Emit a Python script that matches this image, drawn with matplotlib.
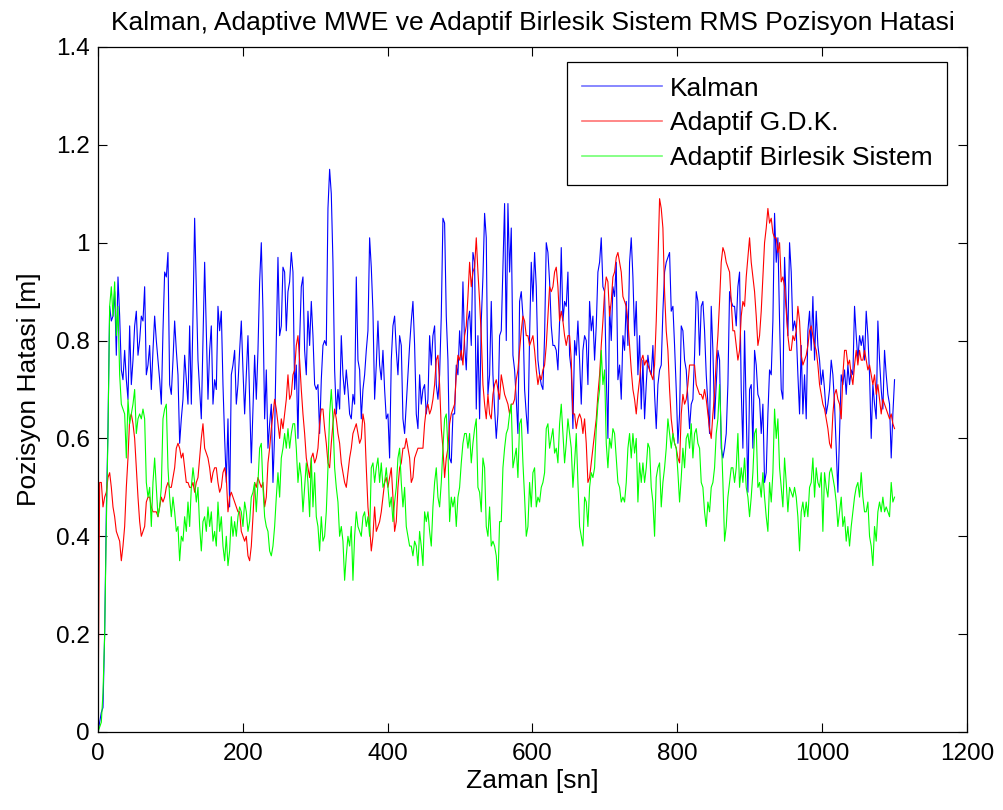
import numpy as np
import matplotlib
matplotlib.use('Agg')
import matplotlib.pyplot as plt

# RMS pozisyon hatasi, ~2.3 sn aralikli ornekler
kalman_1 = [0.0, 0.02, 0.04, 0.05, 0.2, 0.45, 0.62, 0.87, 0.84, 0.85,
            0.90, 0.77, 0.93, 0.85, 0.74, 0.72, 0.78, 0.72, 0.68, 0.83,
            0.71, 0.76, 0.83, 0.86, 0.77, 0.80, 0.85, 0.84, 0.91, 0.73,
            0.75, 0.79, 0.70, 0.78, 0.85, 0.80, 0.76, 0.72, 0.67, 0.82,
            0.94, 0.93, 0.98, 0.71, 0.69, 0.76, 0.84, 0.78, 0.73, 0.59,
            0.64, 0.68, 0.77, 0.72, 0.67, 0.83, 0.67, 0.85, 1.05, 0.90,
            0.76, 0.70, 0.64, 0.80, 0.96, 0.82, 0.68, 0.78, 0.83, 0.67,
            0.72, 0.70, 0.87, 0.82, 0.86, 0.71, 0.60, 0.51, 0.64, 0.46,
            0.73, 0.75, 0.78, 0.67, 0.71, 0.78, 0.84, 0.74, 0.65, 0.73,
            0.81, 0.68, 0.55, 0.66]
kalman_2 = [0.77, 0.68, 0.78, 0.92, 1.00, 0.86, 0.64, 0.74, 0.58, 0.63,
            0.67, 0.51, 0.61, 0.80, 0.97, 0.81, 0.83, 0.95, 0.94, 0.82,
            0.90, 0.92, 0.98, 0.94, 0.70, 0.75, 0.60, 0.80, 0.91, 0.93,
            0.78, 0.73, 0.86, 0.79, 0.88, 0.81, 0.71, 0.70, 0.71, 0.61,
            0.72, 0.79, 0.80, 0.79, 1.07, 1.15, 1.10, 0.96, 0.74, 0.65,
            0.70, 0.66, 0.81, 0.73, 0.69, 0.74, 0.70, 0.65, 0.64, 0.69,
            0.67, 0.93, 0.76, 0.74, 0.64, 0.70, 0.73, 0.78, 0.82, 1.01,
            0.95, 0.86, 0.68, 0.75, 0.84, 0.75, 0.72, 0.78, 0.70, 0.64,
            0.65, 0.56, 0.76, 0.83, 0.85, 0.78, 0.73, 0.81, 0.79, 0.64,
            0.61, 0.67, 0.73, 0.79, 0.84, 0.88]
kalman_3 = [0.79, 0.65, 0.62, 0.73, 0.67, 0.70, 0.71, 0.65, 0.68, 0.81,
            0.75, 0.81, 0.83, 0.71, 0.68, 0.73, 0.85, 1.05, 1.04, 0.85,
            0.76, 0.56, 0.55, 0.65, 0.65, 0.75, 0.73, 0.82, 0.76, 0.92,
            0.79, 0.74, 0.84, 0.86, 0.79, 0.98, 0.96, 0.66, 0.81, 0.64,
            0.84, 0.93, 1.06, 1.01, 0.69, 0.73, 0.88, 0.73, 0.66, 0.60,
            0.65, 0.81, 0.82, 0.95, 1.08, 0.80, 1.08, 0.94, 1.03, 0.77,
            0.74, 0.68, 0.61, 0.88, 0.90, 0.85, 0.70, 0.65, 0.61, 0.81,
            0.96, 0.88, 0.98, 0.91, 0.76, 0.73, 0.71, 0.70, 0.81, 1.00,
            0.98, 0.92, 0.83, 0.79, 0.79, 0.78, 0.74, 0.84, 0.99, 0.84,
            0.88, 0.87, 0.94, 0.77, 0.74, 0.62]
kalman_4 = [0.80, 0.77, 0.84, 0.76, 0.67, 0.78, 0.81, 0.80, 0.71, 0.88,
            0.82, 0.85, 0.76, 0.83, 0.94, 0.96, 1.01, 0.91, 0.90, 0.73,
            0.60, 0.87, 0.80, 0.91, 0.89, 0.96, 0.72, 0.75, 0.68, 0.81,
            0.78, 0.88, 0.79, 0.96, 1.01, 0.93, 0.81, 0.88, 0.73, 0.81,
            0.66, 0.76, 0.64, 0.71, 0.77, 0.74, 0.73, 0.79, 0.69, 0.62,
            0.71, 0.74, 0.75, 0.86, 0.94, 0.96, 0.97, 0.98, 0.86, 0.87,
            0.79, 0.70, 0.59, 0.65, 0.83, 0.82, 0.76, 0.74, 0.68, 0.62,
            0.67, 0.68, 0.77, 0.90, 0.88, 0.77, 0.87, 0.88, 0.82, 0.73,
            0.67, 0.61, 0.87, 0.78, 0.64, 0.71, 0.78, 0.76, 0.58, 0.56,
            0.58, 0.61, 0.71, 0.90, 0.88, 0.87]
kalman_5 = [0.87, 0.83, 0.91, 0.94, 0.70, 0.58, 0.82, 0.65, 0.49, 0.70,
            0.71, 0.58, 0.78, 0.75, 0.69, 0.68, 0.61, 0.67, 0.51, 0.53,
            0.65, 0.74, 0.73, 0.84, 1.06, 0.96, 1.01, 0.84, 0.70, 0.68,
            0.97, 0.88, 0.81, 1.00, 0.94, 0.82, 0.84, 0.82, 0.73, 0.65,
            0.79, 0.65, 0.73, 0.64, 0.82, 0.86, 0.78, 0.89, 0.76, 0.86,
            0.79, 0.76, 0.71, 0.74, 0.70, 0.65, 0.67, 0.70, 0.76, 0.73,
            0.67, 0.58, 0.49, 0.61, 0.73, 0.71, 0.74, 0.69, 0.75, 0.71,
            0.74, 0.73, 0.87, 0.81, 0.76, 0.81, 0.79, 0.81, 0.76, 0.86,
            0.81, 0.73, 0.60, 0.71, 0.67, 0.64, 0.84, 0.76, 0.70, 0.66,
            0.78, 0.73, 0.69, 0.67, 0.56, 0.65, 0.72]

gdk_1 = [0.0, 0.51, 0.51, 0.46, 0.48, 0.49, 0.52, 0.53, 0.50, 0.46,
         0.44, 0.41, 0.40, 0.39, 0.35, 0.38, 0.42, 0.50, 0.56, 0.64,
         0.65, 0.63, 0.60, 0.54, 0.48, 0.43, 0.40, 0.41, 0.42, 0.47,
         0.48, 0.48, 0.46, 0.45, 0.45, 0.45, 0.44, 0.46, 0.48, 0.47,
         0.48, 0.50, 0.51, 0.50, 0.50, 0.52, 0.54, 0.58, 0.59, 0.58,
         0.56, 0.57, 0.54, 0.51, 0.51, 0.50, 0.50, 0.51, 0.49, 0.51,
         0.52, 0.56, 0.60, 0.63, 0.58, 0.57, 0.56, 0.54, 0.51, 0.53,
         0.54, 0.54, 0.51, 0.49, 0.50, 0.53, 0.54, 0.52, 0.45, 0.48,
         0.49, 0.48, 0.47, 0.46, 0.45, 0.45, 0.41, 0.40, 0.39, 0.40,
         0.36, 0.35, 0.38, 0.44]
gdk_2 = [0.51, 0.50, 0.52, 0.51, 0.50, 0.51, 0.46, 0.48, 0.55, 0.58,
         0.62, 0.65, 0.68, 0.66, 0.63, 0.60, 0.64, 0.62, 0.65, 0.68,
         0.73, 0.68, 0.69, 0.73, 0.74, 0.79, 0.81, 0.76, 0.70, 0.65,
         0.61, 0.56, 0.54, 0.52, 0.56, 0.57, 0.55, 0.56, 0.58, 0.63,
         0.66, 0.66, 0.62, 0.59, 0.55, 0.54, 0.59, 0.63, 0.66, 0.64,
         0.61, 0.59, 0.55, 0.53, 0.51, 0.50, 0.53, 0.56, 0.58, 0.61,
         0.62, 0.63, 0.61, 0.59, 0.60, 0.65, 0.63, 0.54, 0.46, 0.42,
         0.37, 0.40, 0.46, 0.41, 0.42, 0.43, 0.45, 0.48, 0.51, 0.52,
         0.50, 0.52, 0.54, 0.48, 0.41, 0.43, 0.50, 0.54, 0.55, 0.58,
         0.58, 0.60, 0.58, 0.56, 0.51, 0.52]
gdk_3 = [0.56, 0.57, 0.58, 0.58, 0.58, 0.58, 0.63, 0.66, 0.67, 0.65,
         0.66, 0.68, 0.71, 0.76, 0.77, 0.71, 0.62, 0.58, 0.52, 0.56,
         0.58, 0.63, 0.65, 0.66, 0.67, 0.73, 0.77, 0.76, 0.78, 0.75,
         0.81, 0.83, 0.89, 0.96, 0.91, 0.94, 0.95, 1.01, 0.94, 0.88,
         0.81, 0.71, 0.67, 0.64, 0.69, 0.65, 0.64, 0.69, 0.71, 0.72,
         0.70, 0.68, 0.73, 0.71, 0.69, 0.68, 0.67, 0.65, 0.67, 0.67,
         0.68, 0.72, 0.74, 0.78, 0.82, 0.85, 0.84, 0.81, 0.81, 0.79,
         0.80, 0.81, 0.78, 0.74, 0.71, 0.73, 0.72, 0.74, 0.75, 0.79,
         0.85, 0.91, 0.90, 0.91, 0.94, 0.95, 0.91, 0.84, 0.86, 0.84,
         0.81, 0.79, 0.81, 0.81, 0.76, 0.65]
gdk_4 = [0.65, 0.62, 0.64, 0.65, 0.64, 0.61, 0.64, 0.59, 0.51, 0.52,
         0.55, 0.58, 0.61, 0.64, 0.69, 0.73, 0.79, 0.84, 0.90, 0.93,
         0.92, 0.85, 0.88, 0.93, 0.94, 0.97, 0.98, 0.96, 0.94, 0.89,
         0.88, 0.87, 0.84, 0.79, 0.74, 0.70, 0.68, 0.65, 0.69, 0.72,
         0.76, 0.77, 0.75, 0.76, 0.75, 0.74, 0.73, 0.72, 0.75, 0.84,
         0.96, 1.09, 1.07, 1.03, 0.90, 0.82, 0.78, 0.70, 0.64, 0.61,
         0.59, 0.58, 0.56, 0.55, 0.65, 0.69, 0.67, 0.68, 0.71, 0.75,
         0.75, 0.75, 0.75, 0.71, 0.70, 0.69, 0.69, 0.68, 0.70, 0.68,
         0.65, 0.62, 0.60, 0.65, 0.69, 0.76, 0.81, 0.88, 0.96, 0.99,
         0.98, 0.96, 0.95, 0.94, 0.88, 0.82]
gdk_5 = [0.82, 0.79, 0.76, 0.78, 0.85, 0.88, 0.87, 0.93, 0.97, 1.01,
         0.96, 0.93, 0.90, 0.85, 0.79, 0.81, 0.86, 0.93, 1.00, 1.03,
         1.07, 1.04, 1.05, 1.02, 1.01, 1.01, 0.98, 1.00, 0.92, 0.93,
         0.91, 0.86, 0.81, 0.78, 0.78, 0.81, 0.80, 0.82, 0.87, 0.84,
         0.77, 0.75, 0.76, 0.77, 0.79, 0.82, 0.83, 0.81, 0.79, 0.78,
         0.75, 0.71, 0.69, 0.67, 0.66, 0.64, 0.62, 0.59, 0.58, 0.65,
         0.69, 0.70, 0.68, 0.67, 0.64, 0.73, 0.78, 0.78, 0.75, 0.76,
         0.73, 0.71, 0.75, 0.78, 0.75, 0.78, 0.76, 0.76, 0.78, 0.76,
         0.74, 0.75, 0.73, 0.71, 0.73, 0.69, 0.71, 0.68, 0.65, 0.68,
         0.67, 0.66, 0.65, 0.64, 0.65, 0.63, 0.62]

birlesik_1 = [0.0, 0.01, 0.02, 0.08, 0.20, 0.42, 0.61, 0.87, 0.91, 0.85,
              0.92, 0.81, 0.87, 0.73, 0.67, 0.66, 0.65, 0.56, 0.68, 0.63,
              0.65, 0.67, 0.70, 0.61, 0.64, 0.65, 0.64, 0.66, 0.64, 0.51,
              0.48, 0.50, 0.42, 0.51, 0.56, 0.50, 0.44, 0.46, 0.50, 0.64,
              0.66, 0.67, 0.54, 0.48, 0.44, 0.48, 0.45, 0.41, 0.42, 0.35,
              0.40, 0.39, 0.44, 0.41, 0.47, 0.42, 0.50, 0.54, 0.51, 0.47,
              0.50, 0.42, 0.37, 0.43, 0.44, 0.41, 0.46, 0.42, 0.45, 0.39,
              0.41, 0.38, 0.47, 0.41, 0.44, 0.38, 0.35, 0.40, 0.34, 0.37,
              0.44, 0.40, 0.43, 0.40, 0.44, 0.46, 0.45, 0.42, 0.47, 0.45,
              0.41, 0.43, 0.48, 0.49]
birlesik_2 = [0.51, 0.45, 0.51, 0.58, 0.59, 0.50, 0.44, 0.42, 0.41, 0.37,
              0.36, 0.38, 0.42, 0.48, 0.53, 0.48, 0.56, 0.58, 0.61, 0.58,
              0.62, 0.58, 0.61, 0.63, 0.63, 0.58, 0.51, 0.55, 0.52, 0.45,
              0.50, 0.55, 0.51, 0.44, 0.56, 0.46, 0.53, 0.44, 0.42, 0.37,
              0.44, 0.39, 0.40, 0.45, 0.54, 0.65, 0.70, 0.64, 0.54, 0.50,
              0.47, 0.40, 0.42, 0.39, 0.31, 0.36, 0.40, 0.38, 0.42, 0.31,
              0.40, 0.45, 0.42, 0.41, 0.40, 0.44, 0.45, 0.42, 0.44, 0.40,
              0.54, 0.55, 0.51, 0.54, 0.56, 0.51, 0.55, 0.50, 0.51, 0.54,
              0.50, 0.46, 0.48, 0.43, 0.47, 0.50, 0.56, 0.58, 0.51, 0.46,
              0.50, 0.42, 0.40, 0.38, 0.38, 0.36]
birlesik_3 = [0.39, 0.38, 0.34, 0.41, 0.38, 0.34, 0.45, 0.43, 0.45, 0.41,
              0.38, 0.46, 0.51, 0.54, 0.48, 0.46, 0.51, 0.58, 0.64, 0.65,
              0.58, 0.43, 0.48, 0.46, 0.48, 0.42, 0.48, 0.50, 0.55, 0.59,
              0.61, 0.61, 0.58, 0.61, 0.55, 0.59, 0.62, 0.64, 0.50, 0.49,
              0.45, 0.56, 0.54, 0.42, 0.40, 0.46, 0.38, 0.39, 0.38, 0.36,
              0.31, 0.43, 0.43, 0.54, 0.58, 0.61, 0.62, 0.65, 0.67, 0.54,
              0.56, 0.58, 0.52, 0.63, 0.64, 0.55, 0.48, 0.40, 0.42, 0.51,
              0.46, 0.53, 0.54, 0.46, 0.48, 0.47, 0.50, 0.51, 0.53, 0.62,
              0.63, 0.58, 0.60, 0.62, 0.57, 0.58, 0.55, 0.63, 0.67, 0.61,
              0.55, 0.59, 0.64, 0.61, 0.58, 0.50]
birlesik_4 = [0.55, 0.61, 0.51, 0.42, 0.40, 0.38, 0.48, 0.47, 0.42, 0.50,
              0.53, 0.52, 0.54, 0.62, 0.67, 0.70, 0.78, 0.71, 0.74, 0.59,
              0.54, 0.60, 0.58, 0.62, 0.61, 0.56, 0.51, 0.50, 0.47, 0.48,
              0.47, 0.51, 0.58, 0.61, 0.56, 0.61, 0.57, 0.60, 0.47, 0.55,
              0.51, 0.55, 0.51, 0.54, 0.59, 0.58, 0.50, 0.47, 0.40, 0.52,
              0.54, 0.55, 0.46, 0.51, 0.54, 0.58, 0.64, 0.61, 0.58, 0.61,
              0.59, 0.58, 0.53, 0.47, 0.52, 0.58, 0.54, 0.60, 0.61, 0.58,
              0.63, 0.56, 0.61, 0.62, 0.59, 0.58, 0.51, 0.50, 0.45, 0.42,
              0.47, 0.45, 0.50, 0.51, 0.54, 0.61, 0.64, 0.71, 0.61, 0.51,
              0.39, 0.42, 0.48, 0.51, 0.54, 0.54]
birlesik_5 = [0.51, 0.54, 0.61, 0.50, 0.54, 0.51, 0.56, 0.50, 0.48, 0.44,
              0.48, 0.53, 0.61, 0.62, 0.50, 0.51, 0.48, 0.53, 0.48, 0.44,
              0.41, 0.51, 0.47, 0.53, 0.66, 0.60, 0.64, 0.54, 0.50, 0.46,
              0.56, 0.51, 0.45, 0.50, 0.49, 0.48, 0.50, 0.48, 0.44, 0.37,
              0.45, 0.47, 0.44, 0.47, 0.44, 0.50, 0.51, 0.56, 0.48, 0.54,
              0.51, 0.50, 0.53, 0.41, 0.53, 0.50, 0.48, 0.53, 0.54, 0.52,
              0.50, 0.47, 0.42, 0.45, 0.48, 0.42, 0.44, 0.39, 0.42, 0.38,
              0.42, 0.45, 0.48, 0.50, 0.51, 0.48, 0.53, 0.48, 0.45, 0.45,
              0.47, 0.40, 0.38, 0.34, 0.42, 0.39, 0.45, 0.47, 0.45, 0.48,
              0.45, 0.46, 0.45, 0.44, 0.51, 0.47, 0.48]

kalman = np.array(kalman_1 + kalman_2 + kalman_3 + kalman_4 + kalman_5)
gdk = np.array(gdk_1 + gdk_2 + gdk_3 + gdk_4 + gdk_5)
birlesik = np.array(birlesik_1 + birlesik_2 + birlesik_3 + birlesik_4 + birlesik_5)

x_ticks = [0, 200, 400, 600, 800, 1000, 1200]
y_ticks = [0, 0.2, 0.4, 0.6, 0.8, 1.0, 1.2, 1.4]
y_tick_labels = ['0', '0.2', '0.4', '0.6', '0.8', '1', '1.2', '1.4']

plt.rcParams['font.family'] = ['Liberation Sans', 'DejaVu Sans']
plt.rcParams['font.size'] = 17.5

fig = plt.figure(figsize=(10.04, 8.10), dpi=100)
ax = fig.add_axes([0.0976, 0.0963, 0.8655, 0.8457])

ax.plot(np.linspace(0, 1100, len(kalman)), kalman, color=(0, 0, 1), lw=0.8, label='Kalman')
ax.plot(np.linspace(0, 1100, len(gdk)), gdk, color=(1, 0, 0), lw=0.8, label='Adaptif G.D.K.')
ax.plot(np.linspace(0, 1100, len(birlesik)), birlesik, color=(0, 1, 0), lw=0.8,
        label='Adaptif Birlesik Sistem')

ax.set_xlim(0, 1200)
ax.set_ylim(0, 1.4)
ax.set_xticks(x_ticks)
ax.set_xticklabels([str(v) for v in x_ticks])
ax.set_yticks(y_ticks)
ax.set_yticklabels(y_tick_labels)
ax.tick_params(direction='in', top=True, right=True, length=6.5, width=0.8,
               labelsize=17.5)
ax.tick_params(axis='x', pad=8)
ax.tick_params(axis='y', pad=6)
for s in ax.spines.values():
    s.set_linewidth(0.9)

ax.set_title('Kalman, Adaptive MWE ve Adaptif Birlesik Sistem RMS Pozisyon Hatasi',
             fontsize=19, pad=12)
ax.set_xlabel('Zaman [sn]', fontsize=19, labelpad=3)
ax.set_ylabel('Pozisyon Hatasi [m]', fontsize=19, labelpad=11)

leg = ax.legend(loc='upper right', bbox_to_anchor=(0.977, 0.978), borderaxespad=0,
                fancybox=False, framealpha=1, edgecolor='black', fontsize=19,
                handlelength=3.03, handletextpad=0.3, labelspacing=0.41,
                borderpad=0.55)
leg.get_frame().set_linewidth(0.9)
for h in leg.get_lines():
    h.set_alpha(0.55)
    h.set_linewidth(1.2)

fig.savefig('out.png', dpi=100)
